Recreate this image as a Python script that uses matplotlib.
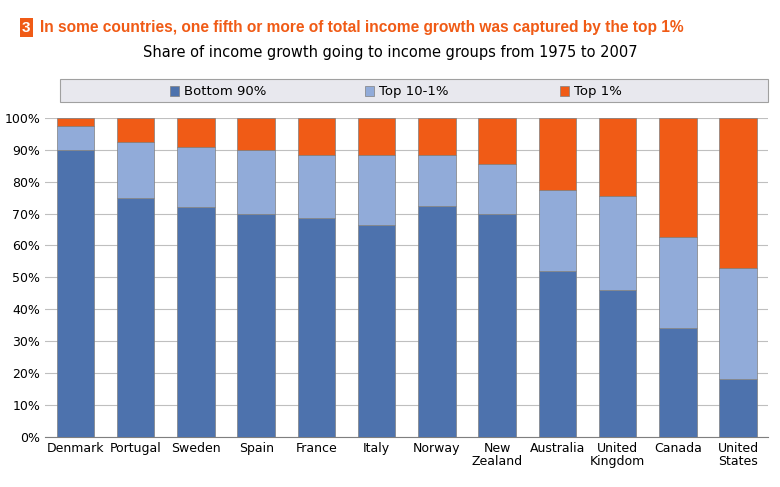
import matplotlib.pyplot as plt
from matplotlib.patches import Rectangle

countries = ['Denmark', 'Portugal', 'Sweden', 'Spain', 'France', 'Italy', 'Norway',
             'New\nZealand', 'Australia', 'United\nKingdom', 'Canada', 'United\nStates']
bottom90 = [90, 75, 72, 70, 68.5, 66.5, 72.5, 70, 52, 46, 34, 18]
top10_1 = [7.5, 17.5, 19, 20, 20, 22, 16, 15.5, 25.5, 29.5, 28.5, 35]
top1 = [2.5, 7.5, 9, 10, 11.5, 11.5, 11.5, 14.5, 22.5, 24.5, 37.5, 47]

c_b, c_m, c_t = '#4d72ad', '#91abd9', '#f05b16'

fig = plt.figure(figsize=(7.8, 4.87), dpi=100)
ax = fig.add_axes([0.058, 0.103, 0.927, 0.655])
x = range(len(countries))
w = 0.62
ax.bar(x, bottom90, w, color=c_b, edgecolor='#7f7f7f', linewidth=0.5, zorder=3)
ax.bar(x, top10_1, w, bottom=bottom90, color=c_m, edgecolor='#7f7f7f', linewidth=0.5, zorder=3)
b2 = [a + b for a, b in zip(bottom90, top10_1)]
ax.bar(x, top1, w, bottom=b2, color=c_t, edgecolor='#7f7f7f', linewidth=0.5, zorder=3)

ax.set_ylim(0, 100)
ax.set_xlim(-0.5, len(countries) - 0.5)
ax.set_yticks(range(0, 101, 10))
ax.set_yticklabels([f'{v}%' for v in range(0, 101, 10)], fontsize=9)
ax.set_xticks(list(x))
ax.set_xticklabels(countries, fontsize=9, linespacing=1.0)
ax.yaxis.grid(True, color='#bfbfbf', linewidth=0.8, zorder=0)
ax.tick_params(length=0)
for s in ['top', 'right', 'left']:
    ax.spines[s].set_visible(False)
ax.spines['bottom'].set_color('#7f7f7f')

# title
fig.text(0.028, 0.935, '3', fontsize=11, fontweight='bold', color='white',
         family='Liberation Sans',
         bbox=dict(boxstyle='square,pad=0.15', fc=c_t, ec='none'))
fig.text(0.051, 0.935, 'In some countries, one fifth or more of total income growth was captured by the top 1%',
         fontsize=11.2, fontweight='bold', color=c_t, family='Liberation Sans')
fig.text(0.5, 0.883, 'Share of income growth going to income groups from 1975 to 2007',
         fontsize=10.5, ha='center', color='black')

# legend box
fig.patches.append(Rectangle((0.077, 0.79), 0.908, 0.047, transform=fig.transFigure,
                             fc='#e8e8ee', ec='#a0a0a0', lw=0.8))
for xp, col, lab in [(0.218, c_b, 'Bottom 90%'), (0.468, c_m, 'Top 10-1%'), (0.718, c_t, 'Top 1%')]:
    fig.patches.append(Rectangle((xp, 0.802), 0.012, 0.022, transform=fig.transFigure,
                                 fc=col, ec='#7f7f7f', lw=0.5))
    fig.text(xp + 0.018, 0.813, lab, fontsize=9.5, va='center')

fig.savefig('out.png', dpi=100)
